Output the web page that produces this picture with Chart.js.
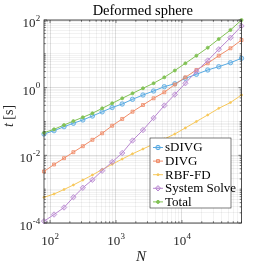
<!DOCTYPE html>
<html>
<head>
<meta charset="utf-8">
<script src="https://cdn.jsdelivr.net/npm/chart.js@4.4.0/dist/chart.umd.min.js"></script>
<style>
  html, body { margin: 0; padding: 0; background: #fff; }
  #timingChart { display: block; }
</style>
</head>
<body>
<canvas id="timingChart" width="266" height="266"></canvas>
<script>
// number of nodes N (x axis)
const nodeCounts = [81, 115, 163, 226, 314, 439, 617, 875, 1242, 1781, 2564, 3715, 5404, 7800, 11270, 16560, 24600, 36150, 54450, 80000];

// timings in seconds, one value per N
const sdivgTimes = [0.0427, 0.0535, 0.0702, 0.0885, 0.111, 0.145, 0.193, 0.259, 0.329, 0.453, 0.607, 0.797, 1.07, 1.31, 1.89, 2.48, 3.33, 4.17, 5.47, 7.38];
const divgTimes = [0.00333, 0.00536, 0.00822, 0.0124, 0.0186, 0.0288, 0.0448, 0.0751, 0.119, 0.195, 0.307, 0.485, 0.73, 1.24, 2.02, 3.33, 5.25, 8.81, 14.6, 25.6];
const rbffdTimes = [0.000574, 0.000719, 0.000977, 0.00133, 0.00186, 0.00262, 0.00381, 0.00543, 0.00778, 0.0111, 0.0154, 0.0216, 0.0304, 0.0427, 0.0646, 0.1, 0.156, 0.245, 0.364, 0.607];
const solveTimes = [0.000113, 0.000178, 0.000287, 0.000578, 0.0011, 0.00189, 0.00351, 0.00635, 0.0117, 0.0274, 0.056, 0.127, 0.297, 0.628, 1.35, 3.05, 6.35, 13.6, 30.0, 66.6];
const totalTimes = [0.0467, 0.0588, 0.0787, 0.103, 0.133, 0.175, 0.245, 0.345, 0.485, 0.681, 0.957, 1.35, 2.02, 3.21, 5.25, 8.81, 15.2, 27.4, 50.6, 100];

const seriesLabels = ["sDIVG", "DIVG", "RBF-FD", "System Solve", "Total"];

// tick labels, as powers of ten
const xTickExponents = [2, 3, 4];
const yTickExponents = [-4, -2, 0, 2];

(function () {
  const serif = '"Liberation Serif", "Times New Roman", serif';
  const axisColor = "#262626";
  const canvas = document.getElementById("timingChart");

  const logTicks = (min, max, labelled) => {
    const ticks = [];
    const lo = Math.floor(Math.log10(min));
    const hi = Math.ceil(Math.log10(max));
    for (let e = lo; e <= hi; e++) {
      for (let m = 1; m <= 9; m++) {
        const value = m * Math.pow(10, e);
        if (value < min * 0.999 || value > max * 1.001) continue;
        ticks.push({ value, major: m === 1 && labelled.includes(e) });
      }
    }
    return ticks;
  };

  const drawPower = (ctx, exponent, x, baseline, align) => {
    ctx.font = `13px ${serif}`;
    const baseWidth = ctx.measureText("10").width;
    ctx.font = `9px ${serif}`;
    const expText = String(exponent);
    const expWidth = ctx.measureText(expText).width;
    const total = baseWidth + expWidth;
    const left = align === "right" ? x - total : x - total / 2;
    ctx.textAlign = "left";
    ctx.textBaseline = "alphabetic";
    ctx.font = `13px ${serif}`;
    ctx.fillText("10", left, baseline);
    ctx.font = `9px ${serif}`;
    ctx.fillText(expText, left + baseWidth + 0.3, baseline - 6.5);
  };

  const axesDecor = {
    id: "axesDecor",
    afterDraw(chart) {
      const { ctx, chartArea } = chart;
      const { left, right, top, bottom } = chartArea;
      const xScale = chart.scales.x;
      const yScale = chart.scales.y;
      ctx.save();

      // inward tick marks on all four sides
      ctx.strokeStyle = axisColor;
      ctx.lineWidth = 0.6;
      ctx.beginPath();
      xScale.ticks.forEach((tick) => {
        const px = xScale.getPixelForValue(tick.value);
        const len = Math.log10(tick.value) % 1 === 0 ? 3 : 1.8;
        ctx.moveTo(px, bottom);
        ctx.lineTo(px, bottom - len);
        ctx.moveTo(px, top);
        ctx.lineTo(px, top + len);
      });
      yScale.ticks.forEach((tick) => {
        const py = yScale.getPixelForValue(tick.value);
        const len = tick.major ? 3 : 1.8;
        ctx.moveTo(left, py);
        ctx.lineTo(left + len, py);
        ctx.moveTo(right, py);
        ctx.lineTo(right - len, py);
      });
      ctx.stroke();

      // axes box
      ctx.lineWidth = 0.8;
      ctx.strokeRect(left, top, right - left, bottom - top);

      // tick labels
      ctx.fillStyle = axisColor;
      xTickExponents.forEach((e) => {
        drawPower(ctx, e, xScale.getPixelForValue(Math.pow(10, e)), 245, "center");
      });
      yTickExponents.forEach((e) => {
        drawPower(ctx, e, 40, yScale.getPixelForValue(Math.pow(10, e)) + 7, "right");
      });

      // title
      ctx.fillStyle = "#000";
      ctx.textAlign = "center";
      ctx.textBaseline = "alphabetic";
      ctx.font = `14.5px ${serif}`;
      ctx.fillText("Deformed sphere", (left + right) / 2, 15);

      // x axis label
      ctx.fillStyle = axisColor;
      ctx.font = `italic 15px ${serif}`;
      ctx.fillText("N", 141, 261);

      // y axis label, "t" italic
      ctx.save();
      ctx.translate(13, 116);
      ctx.rotate(-Math.PI / 2);
      ctx.font = `italic 14px ${serif}`;
      const tWidth = ctx.measureText("t").width;
      ctx.font = `14px ${serif}`;
      const restWidth = ctx.measureText(" [s]").width;
      const start = -(tWidth + restWidth) / 2;
      ctx.textAlign = "left";
      ctx.font = `italic 14px ${serif}`;
      ctx.fillText("t", start, 0);
      ctx.font = `14px ${serif}`;
      ctx.fillText(" [s]", start + tWidth, 0);
      ctx.restore();

      // legend box
      const box = { x: 150, y: 138, w: 81, h: 70 };
      ctx.fillStyle = "#fff";
      ctx.fillRect(box.x, box.y, box.w, box.h);
      ctx.strokeStyle = axisColor;
      ctx.lineWidth = 0.6;
      ctx.strokeRect(box.x, box.y, box.w, box.h);
      chart.data.datasets.forEach((dataset, i) => {
        const rowY = 147.5 + i * 13.6;
        ctx.strokeStyle = dataset.borderColor;
        ctx.lineWidth = 1;
        ctx.beginPath();
        ctx.moveTo(153, rowY);
        ctx.lineTo(163, rowY);
        ctx.stroke();
        ctx.fillStyle = dataset.backgroundColor;
        Chart.helpers.drawPoint(
          ctx,
          {
            pointStyle: dataset.pointStyle,
            radius: dataset.pointRadius,
            borderWidth: dataset.pointBorderWidth,
            rotation: 0,
          },
          158,
          rowY
        );
        ctx.fillStyle = "#000";
        ctx.font = `13px ${serif}`;
        ctx.textAlign = "left";
        ctx.textBaseline = "middle";
        ctx.fillText(dataset.label, 165, rowY + 0.5);
      });

      ctx.restore();
    },
  };

  const makeSeries = (index, values, color, fill, pointStyle, radius) => ({
    label: seriesLabels[index],
    data: values,
    borderColor: color,
    backgroundColor: fill,
    pointBackgroundColor: fill,
    pointBorderColor: color,
    borderWidth: 1,
    pointStyle,
    pointRadius: radius,
    pointBorderWidth: 0.8,
    tension: 0,
    clip: false,
    order: 5 - index,
  });

  const gridColor = (context) =>
    context.tick && context.tick.major ? "rgba(38, 38, 38, 0.15)" : "rgba(38, 38, 38, 0.06)";

  new Chart(canvas, {
    type: "line",
    data: {
      labels: nodeCounts,
      datasets: [
        makeSeries(0, sdivgTimes, "#58aae2", "rgba(88, 170, 226, 0.3)", "circle", 2.2),
        makeSeries(1, divgTimes, "#f08c68", "rgba(240, 140, 104, 0.3)", "rect", 2.1),
        makeSeries(2, rbffdTimes, "#f7c85a", "#f7c85a", "circle", 1),
        makeSeries(3, solveTimes, "#b887d0", "rgba(184, 135, 208, 0.3)", "rectRot", 2.7),
        makeSeries(4, totalTimes, "#82c255", "#82c255", "circle", 1.5),
      ],
    },
    options: {
      responsive: false,
      animation: false,
      layout: {
        padding: { left: 44, right: 24.5, top: 20, bottom: 43 },
      },
      scales: {
        x: {
          type: "logarithmic",
          min: nodeCounts[0],
          max: nodeCounts[nodeCounts.length - 1],
          afterBuildTicks(scale) {
            scale.ticks = logTicks(scale.min, scale.max, xTickExponents);
          },
          ticks: { display: false },
          grid: { drawTicks: false, color: gridColor },
          border: { display: false },
        },
        y: {
          type: "logarithmic",
          min: 1e-4,
          max: 1e2,
          afterBuildTicks(scale) {
            scale.ticks = logTicks(scale.min, scale.max, yTickExponents);
          },
          ticks: { display: false },
          grid: { drawTicks: false, color: gridColor },
          border: { display: false },
        },
      },
      plugins: {
        legend: { display: false },
        tooltip: { enabled: false },
      },
    },
    plugins: [axesDecor],
  });
})();
</script>
</body>
</html>
